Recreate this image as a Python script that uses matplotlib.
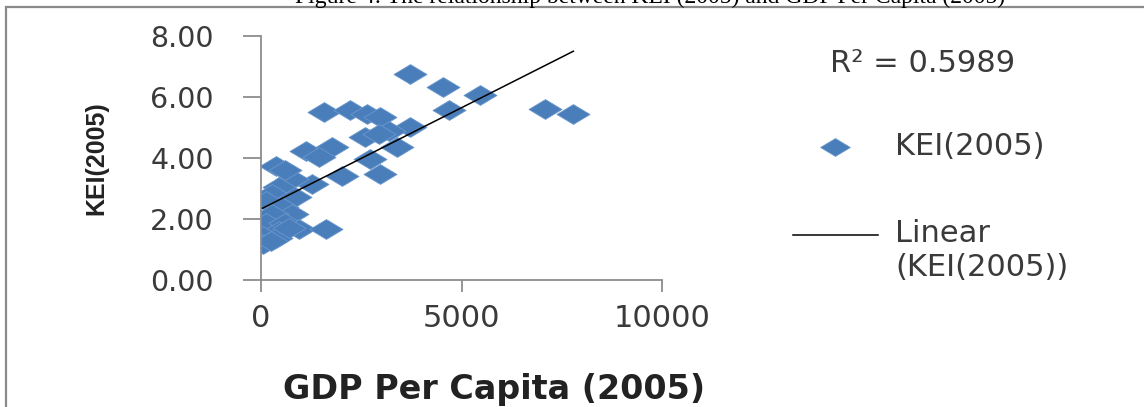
import numpy as np
import matplotlib
matplotlib.use("Agg")
import matplotlib.pyplot as plt
from matplotlib.path import Path
from matplotlib.patches import Rectangle

# GDP per capita (2005) vs KEI (2005)
gdp = [3720, 4550, 5470, 4680, 7080, 7790, 1570, 2230, 2650, 2980,
       3720, 3180, 2600, 2940, 3390, 1110, 1770, 1440, 2730, 370,
       2020, 2980, 1280, 780, 610, 450, 280, 860, 120, 530,
       780, 280, 120, 610, 950, 1610, 450, 50, 40, 370, 700, 240]
kei = [6.77, 6.33, 6.05, 5.58, 5.61, 5.45, 5.50, 5.56, 5.45, 5.36,
       5.01, 4.90, 4.68, 4.79, 4.35, 4.24, 4.35, 4.02, 3.97, 3.75,
       3.42, 3.48, 3.15, 3.31, 3.60, 3.04, 2.82, 2.71, 2.60, 2.38,
       2.16, 2.16, 1.88, 1.88, 1.67, 1.67, 1.60, 1.45, 1.17, 1.38, 1.72, 1.28]

x_ticks = [0, 5000, 10000]
y_ticks = [0, 2, 4, 6, 8]
r2_text = "R\u00b2 = 0.5989"
caption = "Figure 4: The relationship between KEI (2005) and GDP Per Capita (2005)"

blue = "#4a7ebb"
axis_grey = "#8c8c8c"
txt = "#3a3a3a"

# wide diamond, like the stretched excel marker
diamond = Path([(-1, 0), (0, 0.6), (1, 0), (0, -0.6), (-1, 0)],
               [Path.MOVETO, Path.LINETO, Path.LINETO, Path.LINETO, Path.CLOSEPOLY])

fig = plt.figure(figsize=(11.44, 4.07), dpi=100)
ax = fig.add_axes([261 / 1144, 1 - 280 / 407, 401 / 1144, 244 / 407])

gx = np.array(gdp, dtype=float)
ky = np.array(kei, dtype=float)
ax.scatter(gx, ky, s=565, marker=diamond, color=blue, edgecolors="#6a97cc",
           linewidths=0.6, label="KEI(2005)", zorder=2)

# linear trend line over the data range
slope, icpt = np.polyfit(gx, ky, 1)
xl = np.array([gx.min(), gx.max()])
ax.plot(xl, slope * xl + icpt, color="black", lw=1.1, label="Linear\n(KEI(2005))", zorder=3)

ax.set_xlim(0, 10000)
ax.set_ylim(0, 8)
ax.set_xticks(x_ticks)
ax.set_yticks(y_ticks)
ax.set_yticklabels(["%.2f" % v for v in y_ticks])
for s in ["top", "right"]:
    ax.spines[s].set_visible(False)
for s in ["left", "bottom"]:
    ax.spines[s].set_color(axis_grey)
    ax.spines[s].set_linewidth(1.3)
ax.tick_params(axis="y", direction="out", length=13, width=1.3, color=axis_grey,
               pad=21, labelsize=20.5, labelcolor=txt)
ax.tick_params(axis="x", direction="out", length=8.6, width=1.3, color=axis_grey,
               pad=9, labelsize=22, labelcolor=txt)

fig.text(96 / 1144, 1 - 158 / 407, "KEI(2005)", rotation=90, ha="center", va="center",
         fontsize=18, fontweight="bold", family="Liberation Sans", color="#222222")
fig.text(494 / 1144, 1 - 390 / 407, "GDP Per Capita (2005)", ha="center", va="center",
         fontsize=24, fontweight="bold", color="#222222")

fig.text(830 / 1144, 1 - 63 / 407, r2_text, ha="left", va="center", fontsize=22, color=txt)

leg = ax.legend(loc="upper left", bbox_to_anchor=(793 / 1144, 1 - 132 / 407),
                bbox_transform=fig.transFigure, frameon=False, fontsize=22,
                handlelength=2.78, handletextpad=0.56, labelspacing=1.9,
                borderpad=0, borderaxespad=0, markerscale=0.9, scatterpoints=1)
for t in leg.get_texts():
    t.set_color(txt)
# keep the trend line level with the first text line
rows = leg._legend_handle_box.get_children()[0].get_children()
rows[1].align = "top"
key_line = leg.get_lines()[0]
key_line.set_ydata(np.asarray(key_line.get_ydata()) - 4.0)

# caption of the page, mostly cut off at the top
fig.text(650 / 1144, 1 - 3 / 407, caption, ha="center", va="baseline",
         fontsize=17, family="Liberation Serif", color="black")

# frame around the chart
fig.add_artist(Rectangle((5.5 / 1144, -0.5), 2, 1.5 - 6.5 / 407, transform=fig.transFigure,
                         fill=False, edgecolor="#8a8a8a", lw=1.6))

fig.savefig("out.png", dpi=100, facecolor="white")
